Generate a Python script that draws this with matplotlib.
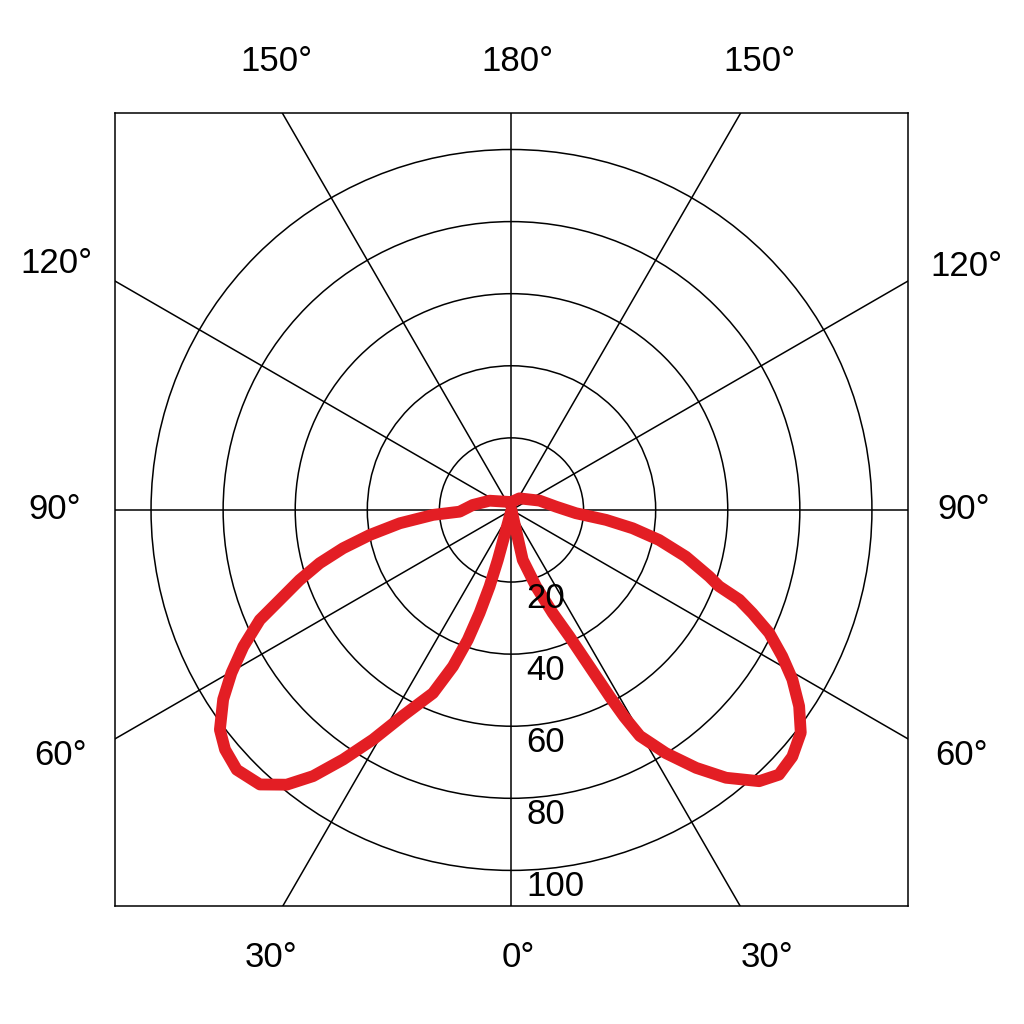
import matplotlib.pyplot as plt
import numpy as np
from matplotlib.patches import Circle

plt.rcParams['font.family'] = ['Liberation Sans', 'DejaVu Sans']

# intensity curve, angle from nadir (deg) -> value
left_angles = [0, 15.3, 16.0, 17.2, 18.6, 20.5, 23.2, 27.8, 31.1, 34.0, 36.7, 39.3,
               42.5, 46.6, 50.1, 53.0, 56.7, 59.8, 63.0, 66.4, 68.8, 71.7, 74.5, 77.2,
               80.0, 83.2, 86.4, 88.1, 97.4, 112.9, 147.4, 180]
left_values = [0, 14.4, 22.1, 29.9, 38.0, 46.3, 55.3, 64.5, 74.4, 83.5, 92.1, 98.5,
               103.3, 104.9, 103.6, 101.3, 95.7, 89.9, 83.5, 76.2, 68.9, 61.9, 55.2, 47.9,
               39.9, 31.2, 21.8, 14.4, 10.8, 6.6, 2.7, 2.2]
right_angles = [0, 12.7, 17.8, 21.8, 24.6, 26.5, 27.8, 28.6, 29.6, 32.4, 35.6, 38.7,
                42.4, 45.3, 48.7, 52.4, 55.7, 58.9, 61.6, 64.5, 66.8, 68.5, 69.8, 71.4,
                75.0, 78.5, 81.4, 84.0, 87.1, 94.2, 108.4, 145.6, 180]
right_values = [0, 14.2, 22.3, 30.8, 38.6, 48.5, 58.8, 65.4, 72.1, 79.9, 88.0, 95.2,
                101.9, 104.4, 103.7, 101.3, 96.6, 91.0, 85.4, 79.2, 72.7, 67.9, 61.4, 57.9,
                50.1, 41.8, 34.0, 26.4, 17.9, 12.4, 8.2, 3.9, 2.2]

rings = [20, 40, 60, 80, 100]
ring_labels = ['20', '40', '60', '80', '100']
spoke_angles = np.arange(0, 360, 30)

angle_labels = ['180°', '150°', '150°', '120°', '120°', '90°', '90°', '60°', '60°', '30°', '30°', '0°']
angle_label_pos = [(1.7, 124.3), (-65.3, 124.3), (68.8, 124.3),
                   (-126.2, 68.5), (126.2, 67.5),
                   (-126.6, 0), (125.5, 0),
                   (-125, -68), (125, -68),
                   (-66.8, -124.2), (71, -124.2), (2, -124.2)]

fig = plt.figure(figsize=(10.24, 10.24), dpi=100)
ax = fig.add_axes([0.1123, 0.1143, 0.7744, 0.7754])
ax.set_xlim(-110, 110)
ax.set_ylim(-110, 110)
ax.set_aspect('equal')
ax.set_xticks([])
ax.set_yticks([])
for s in ax.spines.values():
    s.set_linewidth(1.1)

for r in rings:
    ax.add_patch(Circle((0, 0), r, fill=False, color='black', lw=1.1))

for a in np.deg2rad(spoke_angles):
    ax.plot([0, 200 * np.sin(a)], [0, -200 * np.cos(a)], color='black', lw=1.1)

for r, t in zip(rings, ring_labels):
    ax.text(4.2, -(r + 4.5), t, fontsize=25, ha='left', va='center')

for t, (x, y) in zip(angle_labels, angle_label_pos):
    ax.text(x, y, t, fontsize=25, ha='center', va='center', clip_on=False)

la = np.deg2rad(left_angles)[::-1]
lv = np.array(left_values)[::-1]
ra = np.deg2rad(right_angles)
rv = np.array(right_values)
xs = np.concatenate([-lv * np.sin(la), rv * np.sin(ra)])
ys = np.concatenate([-lv * np.cos(la), -rv * np.cos(ra)])
ax.plot(xs, ys, color='#e31e24', lw=8.5, solid_joinstyle='round', solid_capstyle='round')

fig.savefig('out.png', dpi=100)
